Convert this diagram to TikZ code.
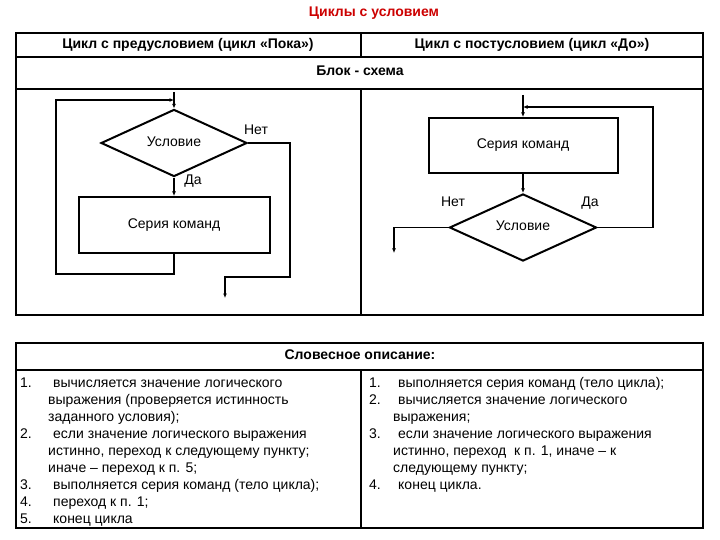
\documentclass[tikz,border=0pt]{standalone}
\usepackage{fontspec}
\setmainfont{Liberation Sans}
\usetikzlibrary{shapes.geometric,arrows.meta}
\definecolor{titlered}{RGB}{204,0,0}
\begin{document}
\begin{tikzpicture}[x=1bp,y=-1bp,
  every node/.style={font=\fontsize{14bp}{17bp}\selectfont, text height=10bp, text depth=3bp, inner sep=0pt},
  hdr/.style={font=\fontsize{14bp}{17bp}\selectfont\bfseries},
  grid/.style={line width=1.2bp},
  blk/.style={draw, line width=2bp, rectangle},
  dec/.style={draw, line width=2bp, diamond, inner sep=0pt},
  conn/.style={line width=1.2bp},
  arr/.style={conn, -{Latex[length=4.5bp,width=4bp]}},
  ln/.style={anchor=west}]
\useasboundingbox (0,0) rectangle (720,540);

% title
\node[hdr, text=titlered] (title) at (374,13) {Циклы с условием};

% upper table
\draw[grid] (16,33) rectangle (703,315);
\draw[grid] (16,57) -- (703,57);
\draw[grid] (16,89) -- (703,89);
\draw[grid] (361,33) -- (361,57);
\draw[grid] (361,89) -- (361,315);
\node[hdr] (h1) at (188,45) {Цикл с предусловием (цикл «Пока»)};
\node[hdr] (h2) at (532,45) {Цикл с постусловием (цикл «До»)};
\node[hdr] (h3) at (360,72) {Блок - схема};

% left flowchart
\node[dec, minimum width=146bp, minimum height=60bp] (c1) at (174,143) {Условие};
\node[blk, minimum width=191bp, minimum height=56bp] (s1) at (174,225) {Серия команд};
\coordinate (in1) at (174,92);
\coordinate (out1) at (225,298);
\draw[arr] (in1) -- (c1.north);
\draw[arr] (c1.south) -- (s1.north);
\draw[arr] (s1.south) -- (174,274) -- (56,274) -- (56,100) -- (174,100);
\draw[arr] (c1.east) -- (290,143) -- (290,277) -- (225,277) -- (out1);
\node (no1) at (256,131) {Нет};
\node (yes1) at (193,181) {Да};

% right flowchart
\node[blk, minimum width=189bp, minimum height=55bp] (s2) at (523,145.5) {Серия команд};
\node[dec, minimum width=147bp, minimum height=61bp] (c2) at (523,227.5) {Условие};
\coordinate (in2) at (523,95);
\coordinate (out2) at (394,253);
\draw[arr] (in2) -- (s2.north);
\draw[arr] (s2.south) -- (c2.north);
\draw[arr] (c2.east) -- (653,227.5) -- (653,107) -- (523,107);
\draw[arr] (c2.west) -- (394,227.5) -- (out2);
\node (no2) at (453,203) {Нет};
\node (yes2) at (590,203) {Да};

% lower table
\draw[grid] (16,343) rectangle (703,528);
\draw[grid] (16,370) -- (703,370);
\draw[grid] (361,370) -- (361,528);
\node[hdr] (h4) at (360,356) {Словесное описание:};

% left list
\node[ln] (ln1) at (20,384) {1.};
\node[ln] (lt1a) at (53,384) {вычисляется значение логического};
\node[ln] (lt1b) at (48,401) {выражения (проверяется истинность};
\node[ln] (lt1c) at (48,418) {заданного условия);};
\node[ln] (ln2) at (20,435) {2.};
\node[ln] (lt2a) at (53,435) {если значение логического выражения};
\node[ln] (lt2b) at (48,452) {истинно, переход к следующему пункту;};
\node[ln] (lt2c) at (48,469) {иначе – переход к п. 5;};
\node[ln] (ln3) at (20,486) {3.};
\node[ln] (lt3a) at (53,486) {выполняется серия команд (тело цикла);};
\node[ln] (ln4) at (20,503) {4.};
\node[ln] (lt4a) at (53,503) {переход к п. 1;};
\node[ln] (ln5) at (20,520) {5.};
\node[ln] (lt5a) at (53,520) {конец цикла};

% right list
\node[ln] (rn1) at (369,384) {1.};
\node[ln] (rt1a) at (398,384) {выполняется серия команд (тело цикла);};
\node[ln] (rn2) at (369,401) {2.};
\node[ln] (rt2a) at (398,401) {вычисляется значение логического};
\node[ln] (rt2b) at (393,418) {выражения;};
\node[ln] (rn3) at (369,435) {3.};
\node[ln] (rt3a) at (398,435) {если значение логического выражения};
\node[ln] (rt3b) at (393,452) {истинно, переход\ \ к п. 1, иначе – к};
\node[ln] (rt3c) at (393,469) {следующему пункту;};
\node[ln] (rn4) at (369,486) {4.};
\node[ln] (rt4a) at (398,486) {конец цикла.};
\end{tikzpicture}
\end{document}
